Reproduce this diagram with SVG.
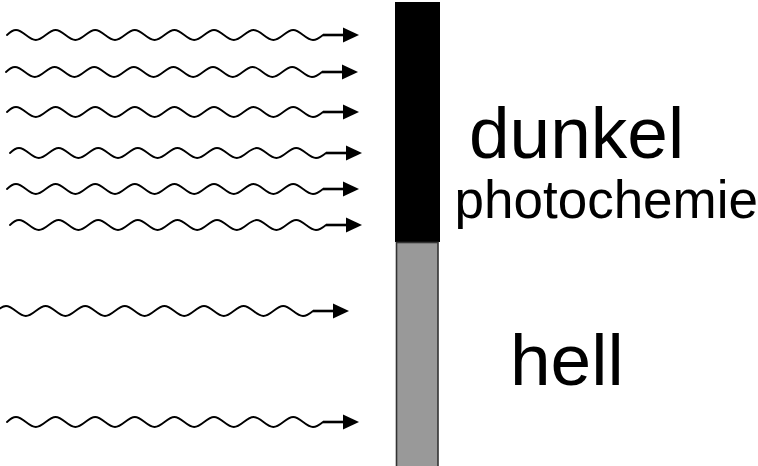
<svg xmlns="http://www.w3.org/2000/svg" xmlns:xlink="http://www.w3.org/1999/xlink" width="758" height="466" viewBox="0 0 758 466">
  <style>
    .wave { fill: none; stroke: #000; stroke-width: 1.8; stroke-linecap: round; }
    .stem { stroke: #000; stroke-width: 2.6; }
    .head { fill: #000; }
    .label { font-family: "Liberation Sans", Arial, sans-serif; fill: #000; }
  </style>
  <defs>
    <!-- one light ray: wavy line, short straight stem, filled arrowhead; origin on the ray axis -->
    <g id="ray">
      <path class="wave" d="M7,0 C10,-3 13,-5 16,-5
        c7.21,0 12.59,10 19.8,10 c7.21,0 12.59,-10 19.8,-10
        c7.21,0 12.59,10 19.8,10 c7.21,0 12.59,-10 19.8,-10
        c7.21,0 12.59,10 19.8,10 c7.21,0 12.59,-10 19.8,-10
        c7.21,0 12.59,10 19.8,10 c7.21,0 12.59,-10 19.8,-10
        c7.21,0 12.59,10 19.8,10 c7.21,0 12.59,-10 19.8,-10
        c7.21,0 12.59,10 19.8,10 c7.21,0 12.59,-10 19.8,-10
        c7.21,0 12.59,10 19.8,10 c7.21,0 12.59,-10 19.8,-10
        c7.21,0 12.59,10 19.8,10
        c3.6,0 7,-2.5 10,-5"/>
      <line class="stem" x1="323" y1="0" x2="345" y2="0"/>
      <polygon class="head" points="343,-7.5 359,0 343,7.5"/>
    </g>
  </defs>

  <rect width="758" height="466" fill="#fff"/>

  <!-- incoming light rays -->
  <g id="rays">
    <use xlink:href="#ray" href="#ray" transform="translate(0,35)"/>
    <use xlink:href="#ray" href="#ray" transform="translate(-1,72)"/>
    <use xlink:href="#ray" href="#ray" transform="translate(0,112)"/>
    <use xlink:href="#ray" href="#ray" transform="translate(3,153)"/>
    <use xlink:href="#ray" href="#ray" transform="translate(0,189)"/>
    <use xlink:href="#ray" href="#ray" transform="translate(3,225)"/>
    <use xlink:href="#ray" href="#ray" transform="translate(-10,311)"/>
    <use xlink:href="#ray" href="#ray" transform="translate(0,422)"/>
  </g>

  <!-- layer: dark upper part, light lower part -->
  <g id="bar-dark">
    <rect x="395" y="2" width="45" height="240" fill="#000"/>
  </g>
  <g id="bar-light">
    <rect x="396.5" y="242.5" width="41.5" height="226" fill="#999" stroke="#333" stroke-width="1.6"/>
  </g>

  <g id="label-dunkel">
    <text class="label" x="469" y="158" font-size="73">dunkel</text>
  </g>
  <g id="label-photochemie">
    <text class="label" x="454.5" y="218" font-size="53">photochemie</text>
  </g>
  <g id="label-hell">
    <text class="label" x="510" y="385" font-size="73">hell</text>
  </g>
</svg>
